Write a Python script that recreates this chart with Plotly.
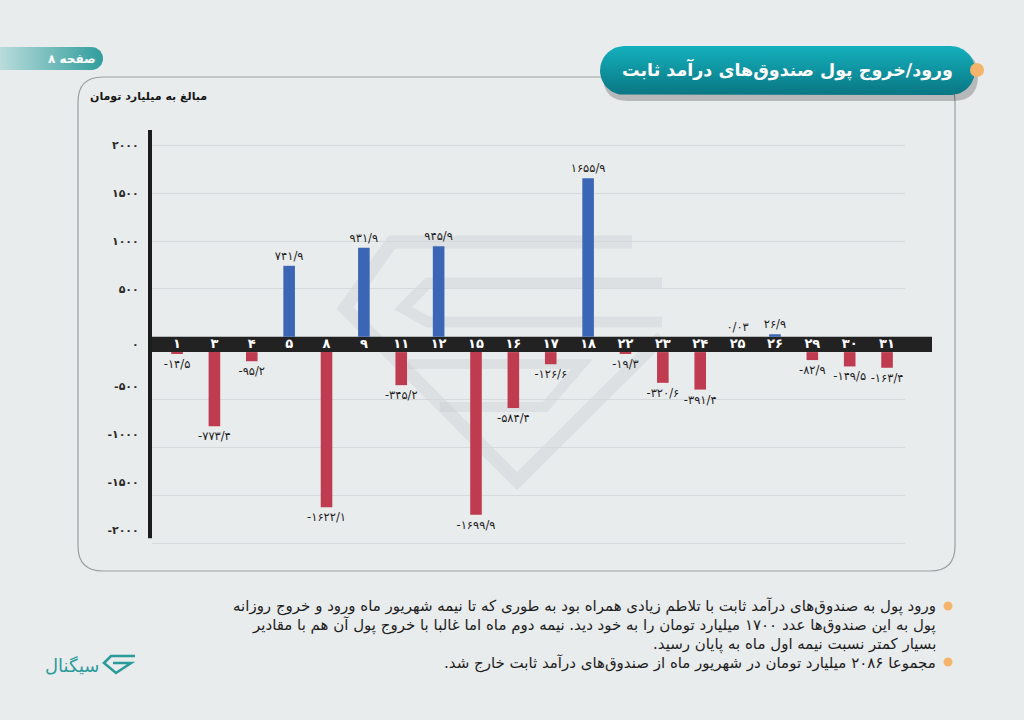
import numpy as np
import plotly.graph_objects as go

W, H = 1024, 720

# daily net flow of fixed-income funds, Shahrivar (billion toman)
days = [1, 3, 4, 5, 8, 9, 11, 12, 15, 16, 17, 18, 22, 23, 24, 25, 26, 29, 30, 31]
flows = [-14.5, -773.4, -95.2, 741.9, -1622.1, 931.9, -345.2, 945.9, -1699.9, -584.4,
         -126.6, 1655.9, -19.3, -320.6, -391.4, 0.03, 26.9, -82.9, -149.5, -163.4]
y_ticks = [2000, 1500, 1000, 500, 0, -500, -1000, -1500, -2000]

title_text = "ورود/خروج پول صندوق‌های درآمد ثابت"
unit_text = "مبالغ به میلیارد تومان"
page_text = "صفحه ۸"
brand_text = "سیگنال"
note_lines = [
    "ورود پول به صندوق‌های درآمد ثابت با تلاطم زیادی همراه بود به طوری که تا نیمه شهریور ماه ورود و خروج روزانه",
    "پول به این صندوق‌ها عدد ۱۷۰۰ میلیارد تومان را به خود دید. نیمه دوم ماه اما غالبا با خروج پول آن هم با مقادیر",
    "بسیار کمتر نسبت نیمه اول ماه به پایان رسید.",
    "مجموعا ۲۰۸۶ میلیارد تومان در شهریور ماه از صندوق‌های درآمد ثابت خارج شد.",
]

FONT = "DejaVu Sans"
BLUE = "#3b66b6"
RED = "#bf3b4f"
TEAL = "#2b9a9b"
ORANGE = "#f5b46c"

FA = str.maketrans("0123456789.", "۰۱۲۳۴۵۶۷۸۹/")


def fa(v):
    return str(v).translate(FA)


def px(x, y):
    return f"{x / W:.5f},{1 - y / H:.5f}"


def poly(pts, close=False):
    s = "M" + " L".join(px(x, y) for x, y in pts)
    return s + (" Z" if close else "")


def rrect(x0, y0, x1, y1, r):
    return (f"M{px(x0 + r, y0)} L{px(x1 - r, y0)} Q{px(x1, y0)} {px(x1, y0 + r)} "
            f"L{px(x1, y1 - r)} Q{px(x1, y1)} {px(x1 - r, y1)} L{px(x0 + r, y1)} "
            f"Q{px(x0, y1)} {px(x0, y1 - r)} L{px(x0, y0 + r)} Q{px(x0, y0)} {px(x0 + r, y0)} Z")


def rrect_pts(x0, y0, x1, y1, r, n=16):
    xs, ys = [], []
    corners = [(x1 - r, y0 + r, -90, 0), (x1 - r, y1 - r, 0, 90),
               (x0 + r, y1 - r, 90, 180), (x0 + r, y0 + r, 180, 270)]
    for cx, cy, a0, a1 in corners:
        t = np.radians(np.linspace(a0, a1, n))
        xs += list(cx + r * np.cos(t))
        ys += list(cy + r * np.sin(t))
    return xs + xs[:1], ys + ys[:1]


gap = 80  # half height of the black category band, in value units
bases = [gap if v > 0 else -gap for v in flows]
colors = [BLUE if v > 0 else RED for v in flows]
labels = [fa(v) for v in flows]
cats = [fa(d) for d in days]

grid_vals = [v + gap if v > 0 else v - gap for v in y_ticks if v != 0]
tick_pos = [v + gap if v > 0 else (v + 0.8 * gap if v < 0 else 0) for v in y_ticks]
tick_txt = ["<b>%s</b>" % fa(v) for v in y_ticks]

fig = go.Figure()

fig.add_trace(go.Bar(
    x=cats, y=flows, base=bases, marker=dict(color=colors, line=dict(width=0)),
    width=0.31, text=labels, textposition="outside", cliponaxis=False,
    constraintext="none", textangle=0,
    textfont=dict(family=FONT, size=11.5, color="#1d1d1d"),
    hoverinfo="skip", showlegend=False,
))

fig.add_trace(go.Scatter(
    x=cats, y=[0] * len(cats), yaxis="y2", mode="text", text=["<b>%s</b>" % c for c in cats],
    textfont=dict(family=FONT, size=13, color="white"),
    hoverinfo="skip", showlegend=False,
))

# title pill and page tab with gradients, on a pixel overlay
pill_x, pill_y = rrect_pts(600, 46, 975, 95, 24.5)
fig.add_trace(go.Scatter(
    x=pill_x, y=pill_y, xaxis="x3", yaxis="y3", mode="lines", fill="toself",
    line=dict(width=0), hoverinfo="skip", showlegend=False,
    fillgradient=dict(type="vertical", colorscale=[[0, "#0a7683"], [1, "#14b0bd"]]),
))
tab_x, tab_y = rrect_pts(-30, 47, 103, 70, 11.5)
fig.add_trace(go.Scatter(
    x=tab_x, y=tab_y, xaxis="x3", yaxis="y3", mode="lines", fill="toself",
    line=dict(width=0), hoverinfo="skip", showlegend=False,
    fillgradient=dict(type="horizontal", colorscale=[[0, "#e2eeee"], [1, "#2f9d9c"]]),
))

WM = "rgba(195,199,202,0.32)"
shapes = [
    # panel outline
    dict(type="path", xref="paper", yref="paper", path=rrect(78, 77, 955, 571, 25),
         line=dict(color="#9c9fa1", width=1.2), layer="below"),
    # watermark
    dict(type="path", xref="paper", yref="paper",
         path=poly([(632, 242), (392, 242), (345, 308), (517, 481), (662, 337)]),
         line=dict(color=WM, width=13), layer="below"),
    dict(type="path", xref="paper", yref="paper",
         path=poly([(662, 283), (428, 283), (403, 308), (428, 322), (662, 322)]),
         line=dict(color=WM, width=11), layer="below"),
    dict(type="path", xref="paper", yref="paper",
         path=poly([(408, 364), (582, 364), (545, 407), (440, 407)]),
         line=dict(color=WM, width=10), layer="below"),
    # pill shadow
    dict(type="path", xref="paper", yref="paper", path=rrect(603, 51, 978, 101, 25),
         fillcolor="rgba(0,0,0,0.22)", line=dict(width=0), layer="below"),
    # category band and y axis line
    dict(type="rect", xref="paper", yref="y", x0=150 / W, x1=932 / W, y0=-gap, y1=gap,
         fillcolor="#222222", line=dict(width=0), layer="between"),
    dict(type="line", xref="paper", yref="y", x0=150 / W, x1=150 / W, y0=-2025, y1=2241,
         line=dict(color="#1c1c1c", width=4)),
    # dots
    dict(type="circle", xref="paper", yref="paper", x0=970 / W, x1=984 / W,
         y0=1 - 77 / H, y1=1 - 63 / H, fillcolor=ORANGE, line=dict(width=0), layer="above"),
    dict(type="circle", xref="paper", yref="paper", x0=943.5 / W, x1=952.5 / W,
         y0=1 - 610.5 / H, y1=1 - 601.5 / H, fillcolor=ORANGE, line=dict(width=0)),
    dict(type="circle", xref="paper", yref="paper", x0=943.5 / W, x1=952.5 / W,
         y0=1 - 666.5 / H, y1=1 - 657.5 / H, fillcolor=ORANGE, line=dict(width=0)),
    # brand icon
    dict(type="path", xref="paper", yref="paper",
         path=poly([(135, 656), (111, 656), (104, 663), (116, 673), (131, 663), (113, 663)]),
         line=dict(color=TEAL, width=2.6)),
]

annotations = [
    dict(text="<b>%s</b>" % title_text, x=787 / W, y=1 - 70 / H,
         font=dict(family=FONT, size=17.5, color="white")),
    dict(text="<b>%s</b>" % page_text, x=72 / W, y=1 - 58.5 / H,
         font=dict(family=FONT, size=12, color="white")),
    dict(text="<b>%s</b>" % unit_text, x=148 / W, y=1 - 97 / H,
         font=dict(family=FONT, size=11, color="#151515")),
    dict(text=brand_text, x=72 / W, y=1 - 665 / H, font=dict(family=FONT, size=18, color=TEAL)),
]
for i, line in enumerate(note_lines):
    annotations.append(dict(
        text="\u200f" + line + "\u200f", x=938 / W, y=1 - [606, 625.5, 644.5, 663][i] / H,
        xanchor="right", font=dict(family=FONT, size=15, color="#1e1e1e"),
    ))
for a in annotations:
    a.update(xref="paper", yref="paper", showarrow=False)
    a.setdefault("xanchor", "center")
    a["yanchor"] = "middle"

y_range = [-2110, 2241]
y_domain = [1 - 546.4 / H, 1 - 130 / H]

fig.update_layout(
    width=W, height=H, margin=dict(l=0, r=0, t=0, b=0),
    paper_bgcolor="#e9eced", plot_bgcolor="rgba(0,0,0,0)",
    font=dict(family=FONT), showlegend=False,
    xaxis=dict(domain=[152 / W, 905 / W], range=[-0.67, 19.48], showticklabels=False,
               showgrid=False, zeroline=False, fixedrange=True),
    yaxis=dict(domain=y_domain, range=y_range, tickvals=grid_vals, showticklabels=False,
               gridcolor="#d6d9db", gridwidth=1, zeroline=False, fixedrange=True),
    yaxis2=dict(overlaying="y", range=y_range, tickvals=tick_pos, ticktext=tick_txt,
                showgrid=False, zeroline=False, ticks="outside", ticklen=10,
                tickcolor="rgba(0,0,0,0)", tickfont=dict(family=FONT, size=11, color="#2a2a2a"),
                fixedrange=True),
    xaxis3=dict(domain=[0, 1], range=[0, W], visible=False, fixedrange=True),
    yaxis3=dict(domain=[0, 1], range=[H, 0], visible=False, fixedrange=True, anchor="x3"),
    shapes=shapes, annotations=annotations,
)

fig.write_html("out.html", config={"displayModeBar": False},
               post_script="document.body.style.margin='0';")
